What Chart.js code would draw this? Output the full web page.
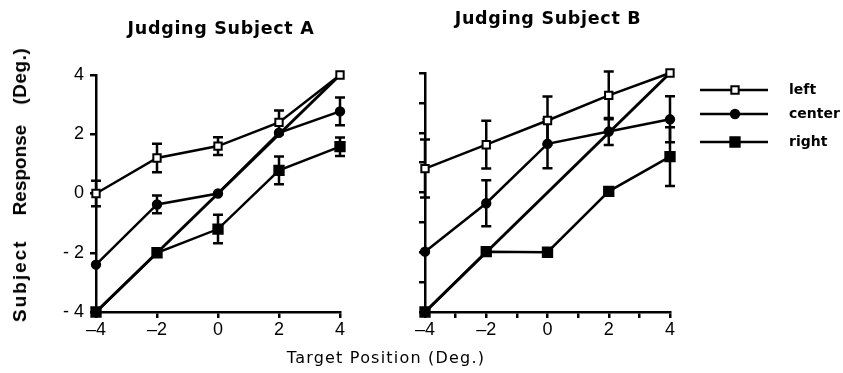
<!DOCTYPE html>
<html lang="en">
<head>
<meta charset="UTF-8">
<title>Judging Subject A / B</title>
<style>
  body { margin: 0; background: #fff; }
  #wrap { position: relative; width: 843px; height: 373px; overflow: hidden; color: #000; }
  #wrap canvas { position: absolute; top: 0; }
  #chartA { left: 0; }
  #chartB { left: 380px; }
  .panel-title {
    position: absolute; white-space: nowrap; transform: translate(-50%, -50%);
    font: bold 17.5px "DejaVu Sans", sans-serif; letter-spacing: 0.7px;
  }
  #yTitle {
    position: absolute; left: 20px; top: 185px; white-space: nowrap;
    transform: translate(-50%, -50%) rotate(-90deg);
    font: bold 19px "Liberation Sans", sans-serif;
  }
  #yTitle span { display: inline-block; }
  #xTitle {
    position: absolute; left: 386px; top: 357px; white-space: nowrap;
    transform: translate(-50%, -50%);
    font: 16px "DejaVu Sans", sans-serif; letter-spacing: 1.2px;
  }
</style>
</head>
<body>
<div id="wrap">
  <canvas id="chartA" width="370" height="373"></canvas>
  <canvas id="chartB" width="463" height="373"></canvas>
  <div class="panel-title" style="left:221px; top:28px;">Judging Subject A</div>
  <div class="panel-title" style="left:548px; top:18px;">Judging Subject B</div>
  <div id="yTitle"><span style="letter-spacing:2px">Subject</span><span style="margin-left:24px">Response</span><span style="margin-left:20px; letter-spacing:0.5px">(Deg.)</span></div>
  <div id="xTitle">Target Position (Deg.)</div>
</div>
<script src="https://cdn.jsdelivr.net/npm/chart.js"></script>
<script>
  // target positions (deg)
  const xs = [-4, -2, 0, 2, 4];
  // perfect-response reference line
  const diagX = [-4, 4];
  const diagY = [-4, 4];

  // Subject A: mean response and error (+/-)
  const aLeft = [0, 1.2, 1.6, 2.4, 4.0];
  const aLeftErr = [0.43, 0.48, 0.3, 0.4, 0];
  const aCenter = [-2.4, -0.37, 0, 2.05, 2.77];
  const aCenterErr = [0, 0.3, 0, 0, 0.47];
  const aRight = [-4, -2, -1.2, 0.78, 1.58];
  const aRightErr = [0, 0, 0.48, 0.47, 0.31];

  // Subject B
  const bLeft = [0.8, 1.6, 2.41, 3.25, 4.0];
  const bLeftErr = [0.97, 0.8, 0.8, 0.8, 0];
  const bCenter = [-1.98, -0.36, 1.63, 2.04, 2.45];
  const bCenterErr = [0, 0.77, 0.82, 0.45, 0.77];
  const bRight = [-4, -1.98, -2, 0.04, 1.2];
  const bRightErr = [0, 0, 0, 0, 0.98];

  const legendNames = ['left', 'center', 'right'];

  const tickFont = { family: 'Liberation Sans', size: 18 };
  const dash = v => (v < 0 ? '\u2013' + Math.abs(v) : String(v));

  // vertical error bars with caps, drawn under the markers
  const errorBars = {
    id: 'errorBars',
    beforeDatasetsDraw(chart) {
      const { ctx, scales: { x, y } } = chart;
      ctx.save();
      ctx.strokeStyle = '#000';
      ctx.lineWidth = 2.5;
      chart.data.datasets.forEach(ds => {
        if (!ds.errors) return;
        ds.data.forEach((p, i) => {
          const e = ds.errors[i];
          if (!e) return;
          const px = x.getPixelForValue(p.x);
          const top = y.getPixelForValue(p.y + e);
          const bot = y.getPixelForValue(p.y - e);
          ctx.beginPath();
          ctx.moveTo(px, top); ctx.lineTo(px, bot);
          ctx.moveTo(px - 5, top); ctx.lineTo(px + 5, top);
          ctx.moveTo(px - 5, bot); ctx.lineTo(px + 5, bot);
          ctx.stroke();
        });
      });
      ctx.restore();
    }
  };

  // line + marker legend to the right of panel B
  const sideLegend = {
    id: 'sideLegend',
    afterDraw(chart) {
      const ctx = chart.ctx;
      const rows = [90, 114, 142];
      ctx.save();
      chart.data.datasets.filter(ds => ds.legendText).forEach((ds, i) => {
        const yy = rows[i];
        ctx.strokeStyle = '#000';
        ctx.lineWidth = 2.5;
        ctx.beginPath();
        ctx.moveTo(320, yy); ctx.lineTo(388, yy);
        ctx.stroke();
        ctx.fillStyle = ds.pointBackgroundColor;
        ctx.lineWidth = ds.pointBorderWidth;
        Chart.helpers.drawPoint(ctx, {
          pointStyle: ds.pointStyle, radius: ds.pointRadius,
          borderWidth: ds.pointBorderWidth, rotation: 0
        }, 355, yy);
        ctx.fillStyle = '#000';
        ctx.font = 'bold 14px "DejaVu Sans"';
        ctx.textBaseline = 'middle';
        ctx.fillText(ds.legendText, 409, yy);
      });
      ctx.restore();
    }
  };

  function series(ys, errs, style, radius, fill, name) {
    return {
      data: xs.map((x, i) => ({ x, y: ys[i] })),
      errors: errs,
      legendText: name,
      borderColor: '#000',
      borderWidth: 2.5,
      pointStyle: style,
      pointRadius: radius,
      pointBackgroundColor: fill,
      pointBorderColor: '#000',
      pointBorderWidth: 2,
      clip: false
    };
  }

  function datasets(l, lErr, c, cErr, r, rErr) {
    return [
      series(l, lErr, 'rect', 5.2, '#fff', legendNames[0]),
      series(c, cErr, 'circle', 4.2, '#000', legendNames[1]),
      series(r, rErr, 'rect', 6.6, '#000', legendNames[2]),
      {
        data: diagX.map((x, i) => ({ x, y: diagY[i] })),
        borderColor: '#000', borderWidth: 3, pointRadius: 0, clip: false
      }
    ];
  }

  function axisGrid() {
    return { drawOnChartArea: false, color: '#000', lineWidth: 2.5, tickLength: 6 };
  }

  const common = {
    responsive: false,
    devicePixelRatio: 1,
    animation: false,
    plugins: { legend: { display: false }, tooltip: { enabled: false } }
  };

  new Chart(document.getElementById('chartA'), {
    type: 'line',
    data: { datasets: datasets(aLeft, aLeftErr, aCenter, aCenterErr, aRight, aRightErr) },
    options: {
      ...common,
      layout: { padding: { left: 56, right: 30, top: 75, bottom: 31 } },
      scales: {
        x: {
          type: 'linear', min: -4, max: 4,
          ticks: { stepSize: 2, color: '#000', font: tickFont, padding: 1, maxRotation: 0, autoSkip: false, callback: dash },
          grid: axisGrid(), border: { color: '#000', width: 2.5 },
          afterFit: s => { s.height = 30; }
        },
        y: {
          min: -4, max: 4,
          ticks: { stepSize: 2, color: '#000', font: tickFont, padding: 6, callback: v => (v < 0 ? '- ' + Math.abs(v) : String(v)) },
          grid: axisGrid(), border: { color: '#000', width: 2.5 },
          afterFit: s => { s.width = 40; }
        }
      }
    },
    plugins: [errorBars]
  });

  new Chart(document.getElementById('chartB'), {
    type: 'line',
    data: { datasets: datasets(bLeft, bLeftErr, bCenter, bCenterErr, bRight, bRightErr) },
    options: {
      ...common,
      layout: { padding: { left: 35, right: 173, top: 73, bottom: 31 } },
      scales: {
        x: {
          type: 'linear', min: -4, max: 4,
          ticks: { stepSize: 1, color: '#000', font: tickFont, padding: 1, maxRotation: 0, autoSkip: false, callback: v => (v % 2 ? '' : dash(v)) },
          grid: axisGrid(), border: { color: '#000', width: 2.5 },
          afterFit: s => { s.height = 30; }
        },
        y: {
          min: -4, max: 4,
          ticks: { stepSize: 1, display: false },
          grid: axisGrid(), border: { color: '#000', width: 2.5 },
          afterFit: s => { s.width = 10; }
        }
      }
    },
    plugins: [errorBars, sideLegend]
  });
</script>
</body>
</html>
